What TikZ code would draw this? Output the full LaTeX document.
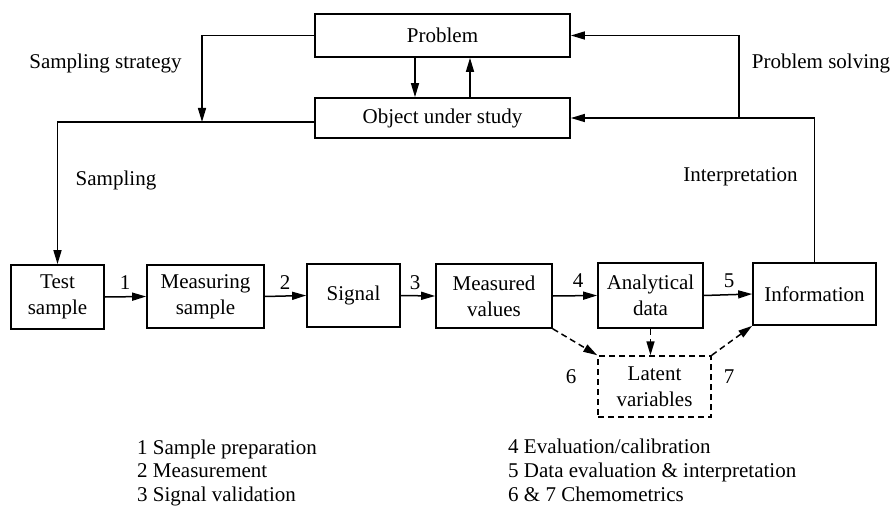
\documentclass[tikz,border=0pt]{standalone}
\usepackage{fontspec}
\setmainfont{Liberation Serif}
\usetikzlibrary{arrows.meta,calc}
\begin{document}
\begin{tikzpicture}[x=1pt,y=-1pt,
  every node/.style={font=\rmfamily\fontsize{21}{26}\selectfont},
  box/.style={draw,line width=1.7pt,inner sep=0pt,align=center},
  dbox/.style={draw,line width=1.5pt,dash pattern=on 6pt off 4pt,inner sep=0pt,align=center},
  arr/.style={line width=1.5pt,-{Triangle[length=14pt,width=8pt]}},
  darr/.style={line width=1.5pt,dash pattern=on 6pt off 4pt,-{Triangle[length=14pt,width=8pt]}},
  lbl/.style={inner sep=0pt},
  leg/.style={inner sep=0pt,anchor=base west}]
\useasboundingbox (0,0) rectangle (896,508);
% boxes
\node[box,minimum width=255pt,minimum height=43pt] (prob) at (442.5,35.5) {Problem};
\node[box,minimum width=255pt,minimum height=40pt] (obj) at (442.5,118) {Object under study};
\node[box,minimum width=93pt,minimum height=64pt] (test) at (57.5,297) {Test\\sample};
\node[box,minimum width=117pt,minimum height=63pt] (meas) at (205.5,296.5) {Measuring\\sample};
\node[box,minimum width=93pt,minimum height=63pt] (sig) at (353.5,295.5) {Signal};
\node[box,minimum width=116pt,minimum height=64pt] (mval) at (494,296) {Measured\\values};
\node[box,minimum width=105pt,minimum height=65pt] (adata) at (650.5,295.5) {Analytical\\data};
\node[box,minimum width=123pt,minimum height=62pt] (info) at (814.5,294) {Information};
\node[dbox,minimum width=113pt,minimum height=61pt] (lat) at (654.5,386.5) {Latent\\variables};
% top connectors
\coordinate (ss) at (202,122);
\coordinate (ps) at (739,118);
\draw[arr] (prob.west) -| (ss);
\draw[arr] ([yshift=-4pt]obj.west) -| (test.north);
\draw[arr] ([xshift=-27.5pt]prob.south) -- ([xshift=-27.5pt]obj.north);
\draw[arr] ([xshift=27.5pt]obj.north) -- ([xshift=27.5pt]prob.south);
\draw[arr] (info.north) |- (obj.east);
\draw[arr] (ps) |- (prob.east);
% main chain
\draw[arr] (test.east) -- (meas.west);
\draw[arr] (meas.east) -- (sig.west);
\draw[arr] (sig.east) -- (mval.west);
\draw[arr] (mval.east) -- (adata.west);
\draw[arr] (adata.east) -- (info.west);
% dashed
\draw[darr] (mval.south east) -- (lat.north west);
\draw[darr] (adata.south) -- (adata.south |- lat.north);
\draw[darr] (lat.north east) -- (info.south west);
% labels
\node[lbl] (lss) at (105.5,63) {Sampling strategy};
\node[lbl] (lsa) at (116,180) {Sampling};
\node[lbl] (lps) at (821,63) {Problem solving};
\node[lbl] (lin) at (740.5,177) {Interpretation};
\node[lbl] (n1) at (125,283) {1};
\node[lbl] (n2) at (285,283) {2};
\node[lbl] (n3) at (415,283) {3};
\node[lbl] (n4) at (578,281) {4};
\node[lbl] (n5) at (729,281) {5};
\node[lbl] (n6) at (571,377) {6};
\node[lbl] (n7) at (729,377) {7};
% legend
\node[leg] (g1) at (137,454) {1 Sample preparation};
\node[leg] (g2) at (137,477.5) {2 Measurement};
\node[leg] (g3) at (137,501) {3 Signal validation};
\node[leg] (g4) at (508,453) {4 Evaluation/calibration};
\node[leg] (g5) at (508,477) {5 Data evaluation \& interpretation};
\node[leg] (g6) at (508,501) {6 \& 7 Chemometrics};
\end{tikzpicture}
\end{document}
